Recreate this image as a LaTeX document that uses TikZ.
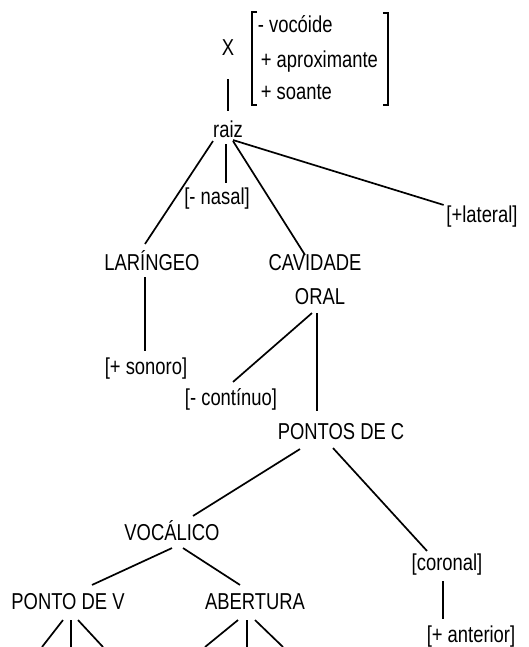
\documentclass[tikz,border=0pt]{standalone}
\usepackage{fontspec}
\setmainfont[FakeStretch=0.8]{Liberation Sans}
\usepackage{tikz}
\usetikzlibrary{calc,positioning}
\tikzstyle{feat}=[inner sep=1pt,text height=7.2pt,text depth=2pt,font=\fontsize{11.5}{13}\selectfont]
\tikzstyle{featw}=[feat,anchor=west]

\begin{document}
\begin{tikzpicture}[x=0.5pt,y=-0.5pt,line width=0.85pt]
\useasboundingbox (0,0) rectangle (529,647);
\draw (228, 50) node [feat] (X) {X};
\draw (255, 27) node [featw] (f1) {- voc\'oide};
\draw (258, 62) node [featw] (f2) {+ aproximante};
\draw (258, 94) node [featw] (f3) {+ soante};
\draw (228, 132) node [feat] (raiz) {raiz};
\draw (217, 199) node [feat] (nasal) {[- nasal]};
\draw (482, 217) node [feat] (lateral) {[+lateral]};
\draw (152, 265) node [feat] (lar) {LAR\'INGEO};
\draw (315, 265) node [feat] (cav) {CAVIDADE};
\draw (320, 299) node [feat] (oral) {ORAL};
\draw (146, 369) node [feat] (sonoro) {[+ sonoro]};
\draw (231, 400) node [feat] (cont) {[- cont\'inuo]};
\draw (341, 434) node [feat] (pc) {PONTOS DE C};
\draw (172, 535) node [feat] (voc) {VOC\'ALICO};
\draw (447, 565) node [feat] (coronal) {[coronal]};
\draw (471, 637) node [feat] (anterior) {[+ anterior]};
\draw (68, 604) node [feat] (pv) {PONTO DE V};
\draw (255, 604) node [feat] (ab) {ABERTURA};
\coordinate (pv1) at (42, 647);
\coordinate (pv2) at (71, 647);
\coordinate (pv3) at (103, 647);
\coordinate (ab1) at (205, 647);
\coordinate (ab2) at (247, 647);
\coordinate (ab3) at (283, 647);
% brackets
\draw ($(f1.west)+(2,-15)$) -| ($(f3.west)+(-6,11)$) -- ++(5,0);
\draw ($(f2.east)+(2,-49)$) -| ($(f2.east)+(7,43)$) -- ++(-5,0);
% edges
\draw ($(X.south)+(0,17)$) -- ($(raiz.north)+(0,-9)$);
\draw ($(raiz.south)+(-15,-3)$) -- ($(lar.north)+(-7,-9)$);
\draw ($(raiz.south)+(-2,0)$) -- ($(nasal.north)+(9,-4)$);
\draw ($(raiz.south)+(5,-3)$) -- ($(cav.north)+(-10,2)$);
\draw ($(raiz.south)+(5,-4)$) -- (lateral.north west);
\draw ($(lar.south)+(-7,0)$) -- ($(sonoro.north)+(-1,-6)$);
\draw ($(oral.south)+(-8,2)$) -- ($(cont.north)+(2,-6)$);
\draw ($(oral.south)+(-3,2)$) -- ($(pc.north)+(-24,-11)$);
\draw ($(pc.south)+(-41,3)$) -- ($(voc.north)+(21,-7)$);
\draw ($(pc.south)+(-8,2)$) -- ($(coronal.north)+(-20,-2)$);
\draw ($(coronal.south)+(-4,4)$) -- ($(anterior.north)+(-28,-6)$);
\draw ($(voc.south)+(0,1)$) -- ($(pv.north)+(24,-7)$);
\draw ($(voc.south)+(11,1)$) -- ($(ab.north)+(-15,-7)$);
\draw ($(pv.south)+(-5,4)$) -- (pv1);
\draw ($(pv.south)+(3,4)$) -- (pv2);
\draw ($(pv.south)+(10,4)$) -- (pv3);
\draw ($(ab.south)+(-17,4)$) -- (ab1);
\draw ($(ab.south)+(-8,4)$) -- (ab2);
\draw ($(ab.south)+(0,4)$) -- (ab3);
\end{tikzpicture}
\end{document}
